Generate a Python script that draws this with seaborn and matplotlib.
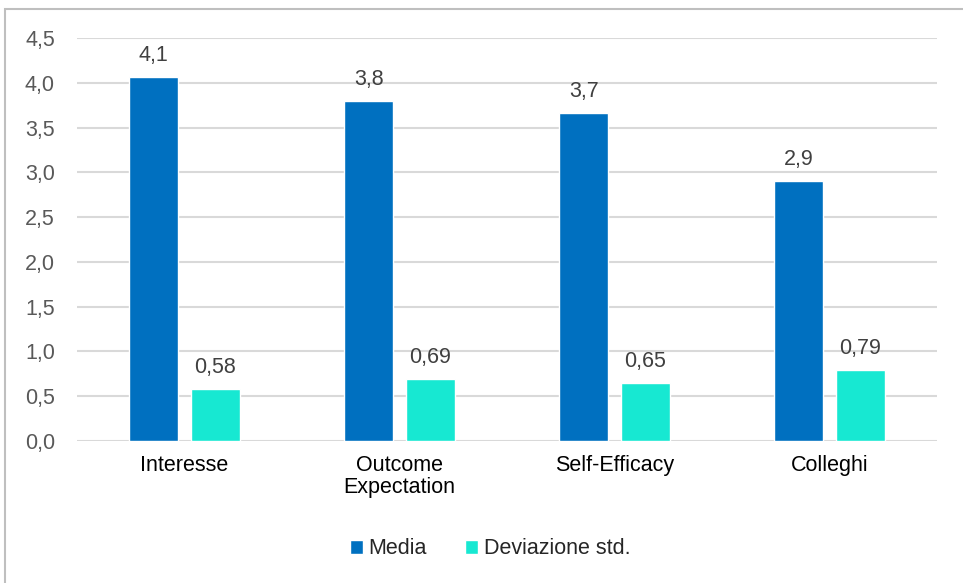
import matplotlib
matplotlib.use("Agg")
import matplotlib.pyplot as plt
import matplotlib.patches as mpatches
import seaborn as sns
import pandas as pd

categories = ["Interesse", "Outcome\nExpectation", "Self-Efficacy", "Colleghi"]
series_names = ["Media", "Deviazione std."]
media = [4.06, 3.80, 3.66, 2.90]
dev_std = [0.58, 0.69, 0.65, 0.79]
y_ticks = [0.0, 0.5, 1.0, 1.5, 2.0, 2.5, 3.0, 3.5, 4.0, 4.5]

colors = ["#0070C0", "#17E8D2"]
FS = 15.5

df = pd.DataFrame({
    "categoria": categories * 2,
    "serie": [series_names[0]] * 4 + [series_names[1]] * 4,
    "valore": media + dev_std,
})

sns.set_style("white")
plt.rcParams["font.family"] = ["Liberation Sans", "DejaVu Sans"]

fig = plt.figure(figsize=(9.63, 5.83), dpi=100)
ax = fig.add_axes([77 / 963, 1 - 441 / 583, 860 / 963, (441 - 38) / 583])

sns.barplot(data=df, x="categoria", y="valore", hue="serie",
            palette=colors, width=0.57, gap=0.2, ax=ax,
            saturation=1, legend=True)

ax.set_xlim(-0.5, 3.5)
ax.set_ylim(0, 4.5)
ax.set_yticks(y_ticks)
ax.set_yticklabels([f"{v:.1f}".replace(".", ",") for v in y_ticks],
                   color="#595959", fontsize=FS)
ax.tick_params(axis="y", length=0, pad=16)
ax.tick_params(axis="x", length=0, pad=10, labelsize=FS, labelcolor="#000000")
for t in ax.get_xticklabels():
    t.set_linespacing(1.05)
ax.set_xlabel("")
ax.set_ylabel("")
ax.yaxis.grid(True, color="#d9d9d9", linewidth=1.5)
ax.set_axisbelow(True)
for s in ax.spines.values():
    s.set_visible(False)

fmts = [lambda v: f"{v:.1f}".replace(".", ","),
        lambda v: f"{v:.2f}".replace(".", ",")]
for cont, f in zip(ax.containers, fmts):
    ax.bar_label(cont, labels=[f(b.get_height()) for b in cont],
                 padding=8, color="#404040", fontsize=FS)

handles, labels = ax.get_legend_handles_labels()
ax.get_legend().remove()
fig.legend(handles, labels, loc="center", bbox_to_anchor=(490 / 963, 1 - 549 / 583),
           ncol=2, frameon=False, fontsize=FS,
           handlelength=0.6, handleheight=0.6, handletextpad=0.25,
           columnspacing=1.8)

border = mpatches.Rectangle((5 / 963, -0.05), 1.0, 1.05 - 9 / 583,
                            transform=fig.transFigure, fill=False,
                            edgecolor="#bfbfbf", linewidth=1.5, clip_on=False)
fig.patches.append(border)

fig.savefig("out.png", dpi=100)
